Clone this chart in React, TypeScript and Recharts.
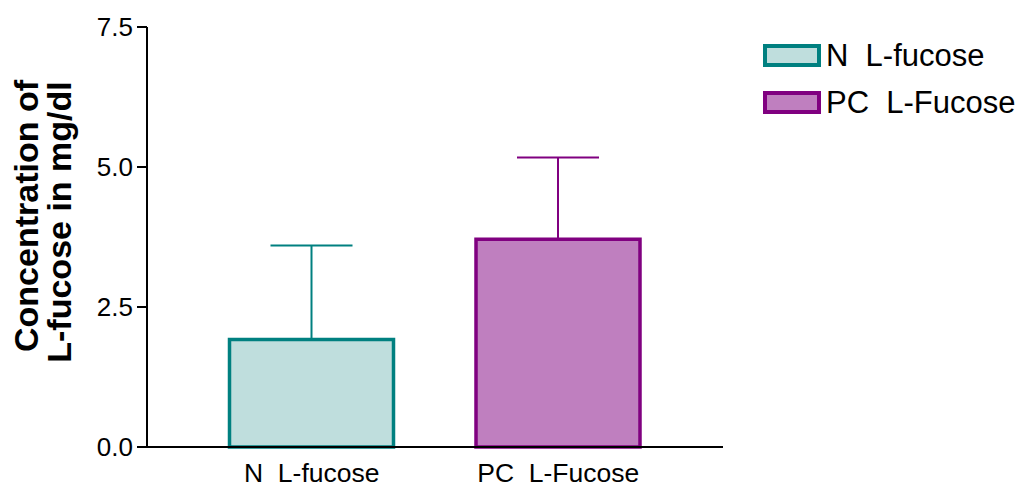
import React from "react";
import { Bar, BarChart, ErrorBar, XAxis, YAxis, Legend, Label } from "recharts";

// values
const groups = ["N  L-fucose", "PC  L-Fucose"];
const nMean = [1.92, null];
const nErr = [1.68, null];
const pcMean = [null, 3.71];
const pcErr = [null, 1.46];
const yTicks = [0, 2.5, 5, 7.5];

const colors = {
  n: { fill: "#bfdedd", stroke: "#008080" },
  pc: { fill: "#bf7fbf", stroke: "#800080" },
};

const font = "'Liberation Sans', Arial, sans-serif";

const data = groups.map((name, i) => ({
  name,
  n: nMean[i],
  nErr: nErr[i] == null ? null : [0, nErr[i]],
  pc: pcMean[i],
  pcErr: pcErr[i] == null ? null : [0, pcErr[i]],
}));

const XTick = ({ x, y, payload }: any) => (
  <text
    x={x}
    y={y}
    dy="0.72em"
    textAnchor="middle"
    fill="#000"
    fontSize={26.5}
    fontFamily={font}
    style={{ whiteSpace: "pre" }}
  >
    {payload.value}
  </text>
);

const YLabel = () => (
  <g fontFamily={font} fontWeight="bold" fontSize={34} fill="#000">
    <text x={38} y={216} textAnchor="middle" transform="rotate(-90 38 216)">
      Concentration of
    </text>
    <text x={71} y={222} textAnchor="middle" transform="rotate(-90 71 222)">
      L-fucose in mg/dl
    </text>
  </g>
);

const LegendBox = () => (
  <div style={{ fontFamily: font, fontSize: 31, color: "#000" }}>
    {[
      { label: groups[0], c: colors.n },
      { label: groups[1], c: colors.pc },
    ].map((item) => (
      <div
        key={item.label}
        style={{ display: "flex", alignItems: "center", height: 47, whiteSpace: "pre" }}
      >
        <svg width={60} height={24} style={{ marginRight: 3 }}>
          <rect x={2} y={2} width={54} height={19} fill={item.c.fill} stroke={item.c.stroke} strokeWidth={4} />
        </svg>
        <span>{item.label}</span>
      </div>
    ))}
  </div>
);

export default function App() {
  return (
    <div style={{ position: "absolute", left: 0, top: 0 }}>
      <BarChart
        width={1029}
        height={489}
        data={data}
        margin={{ top: 27, right: 306, bottom: 0, left: 0 }}
      >
        <XAxis
          dataKey="name"
          height={42}
          tick={<XTick />}
          tickLine={false}
          tickSize={6}
          tickMargin={10}
          axisLine={{ stroke: "#000", strokeWidth: 2 }}
          padding={{ left: 41.5, right: 41.5 }}
        />
        <YAxis
          width={147}
          domain={[0, 7.5]}
          ticks={yTicks}
          tickFormatter={(v) => v.toFixed(1)}
          tick={{ fill: "#000", fontSize: 26, fontFamily: font }}
          tickSize={10}
          tickMargin={4}
          tickLine={{ stroke: "#000", strokeWidth: 2 }}
          axisLine={{ stroke: "#000", strokeWidth: 2 }}
        >
          <Label content={<YLabel />} />
        </YAxis>
        <Legend
          content={<LegendBox />}
          layout="vertical"
          align="center"
          verticalAlign="middle"
          wrapperStyle={{ left: 763, top: 32, width: 266 }}
        />
        <Bar
          dataKey="n"
          name={groups[0]}
          stackId="a"
          barSize={164}
          fill={colors.n.fill}
          stroke={colors.n.stroke}
          strokeWidth={3.5}
          isAnimationActive={false}
        >
          <ErrorBar dataKey="nErr" direction="y" width={41} stroke={colors.n.stroke} strokeWidth={2} />
        </Bar>
        <Bar
          dataKey="pc"
          name={groups[1]}
          stackId="a"
          barSize={164}
          fill={colors.pc.fill}
          stroke={colors.pc.stroke}
          strokeWidth={3.5}
          isAnimationActive={false}
        >
          <ErrorBar dataKey="pcErr" direction="y" width={41} stroke={colors.pc.stroke} strokeWidth={2} />
        </Bar>
      </BarChart>
    </div>
  );
}
